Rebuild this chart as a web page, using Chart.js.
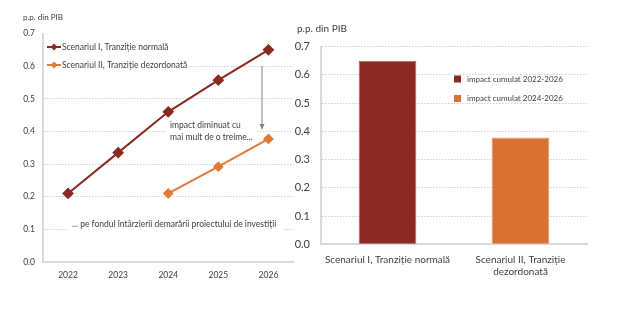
<!DOCTYPE html>
<html>
<head>
<meta charset="utf-8">
<script src="https://cdn.jsdelivr.net/npm/chart.js@4.4.1/dist/chart.umd.min.js"></script>
<style>
  body { margin: 0; background: #fff; }
  #wrap { position: relative; width: 641px; height: 327px; }
  .box { position: absolute; top: 0; height: 327px; }
</style>
</head>
<body>
<div id="wrap">
  <div class="box" style="left:0;width:300px"><canvas id="lineChart"></canvas></div>
  <div class="box" style="left:290px;width:351px"><canvas id="barChart"></canvas></div>
</div>
<script>
// ------- data -------
const years = ['2022', '2023', '2024', '2025', '2026'];
const scenariu1 = [0.21, 0.335, 0.46, 0.557, 0.65];
const scenariu2 = [null, null, 0.21, 0.292, 0.377];
const seriesNames = ['Scenariul I, Tranziție normală', 'Scenariul II, Tranziție dezordonată'];

const barLabels = [['Scenariul I, Tranziție normală'], ['Scenariul II, Tranziție', 'dezordonată']];
const impact = [0.65, 0.378];
const impactNames = ['impact cumulat 2022-2026', 'impact cumulat 2024-2026'];

const unitText = 'p.p. din PIB';
const noteText = ['impact diminuat cu', 'mai mult de o treime...'];
const bottomNote = '... pe fondul întârzierii demarării proiectului de investiții';

const RED = '#8B2A22';
const ORANGE = '#E07B39';
const BAR_ORANGE = '#D97132';
const FONT = 'Lato, "Open Sans", sans-serif';
const TXT = '#404040';

Chart.defaults.font.family = FONT;
Chart.defaults.animation = false;

// ---------line chart------------

const leftDecor = {
  id: 'leftDecor',
  beforeDatasetsDraw(chart) {
    const ctx = chart.ctx;
    ctx.save();
    // legend box
    ctx.fillStyle = '#fff';
    ctx.fillRect(44, 37, 142, 37);
    const cols = [RED, ORANGE];
    const ys = [47, 65];
    ctx.font = '8.5px ' + FONT;
    ctx.textBaseline = 'middle';
    for (let i = 0; i < 2; i++) {
      ctx.strokeStyle = cols[i];
      ctx.fillStyle = cols[i];
      ctx.lineWidth = 2;
      ctx.beginPath();
      ctx.moveTo(47, ys[i]);
      ctx.lineTo(61, ys[i]);
      ctx.stroke();
      ctx.beginPath();
      ctx.moveTo(54, ys[i] - 3.5);
      ctx.lineTo(57.5, ys[i]);
      ctx.lineTo(54, ys[i] + 3.5);
      ctx.lineTo(50.5, ys[i]);
      ctx.closePath();
      ctx.fill();
      ctx.fillStyle = TXT;
      ctx.fillText(seriesNames[i], 62, ys[i]);
    }
    // middle note
    ctx.fillStyle = '#fff';
    ctx.fillRect(165, 118, 92, 26);
    ctx.fillStyle = TXT;
    ctx.fillText(noteText[0], 170, 125);
    ctx.fillText(noteText[1], 170, 137);
    // bottom note
    ctx.fillStyle = '#fff';
    ctx.fillRect(68, 216, 216, 18);
    ctx.fillStyle = TXT;
    ctx.fillText(bottomNote, 72, 224);
    // arrow
    ctx.strokeStyle = '#7d8677';
    ctx.fillStyle = '#7d8677';
    ctx.lineWidth = 1;
    ctx.beginPath();
    ctx.moveTo(262, 66);
    ctx.lineTo(262, 125);
    ctx.stroke();
    ctx.beginPath();
    ctx.moveTo(259.5, 124);
    ctx.lineTo(264.5, 124);
    ctx.lineTo(262, 130);
    ctx.closePath();
    ctx.fill();
    // unit
    ctx.fillStyle = TXT;
    ctx.font = '8px ' + FONT;
    ctx.fillText(unitText, 23, 17);
    ctx.restore();
  }
};

new Chart(document.getElementById('lineChart'), {
  type: 'line',
  data: {
    labels: years,
    datasets: [
      {
        label: seriesNames[0],
        data: scenariu1,
        borderColor: RED,
        backgroundColor: RED,
        borderWidth: 2,
        pointStyle: 'rectRot',
        pointRadius: 4.5,
        pointHoverRadius: 4.5
      },
      {
        label: seriesNames[1],
        data: scenariu2,
        borderColor: ORANGE,
        backgroundColor: ORANGE,
        borderWidth: 2,
        pointStyle: 'rectRot',
        pointRadius: 4,
        pointHoverRadius: 4
      }
    ]
  },
  options: {
    responsive: true,
    maintainAspectRatio: false,
    layout: { padding: { top: 33.5, right: 4, bottom: 35, left: 0 } },
    plugins: { legend: { display: false }, tooltip: { enabled: false } },
    scales: {
      x: {
        offset: true,
        grid: { display: false, drawTicks: false },
        border: { color: '#d9d9d9', width: 2 },
        ticks: { color: TXT, font: { size: 8.5 }, padding: 8 },
        afterFit(s) { s.height = 30; }
      },
      y: {
        min: 0,
        max: 0.7,
        ticks: { stepSize: 0.1, color: TXT, font: { size: 8.5 }, padding: 8,
                 callback: v => v.toFixed(1) },
        grid: {
          drawTicks: false,
          color: c => (c.tick.value === 0 || c.tick.value > 0.65) ? 'rgba(0,0,0,0)' : '#cfcfcf'
        },
        border: { color: '#d9d9d9', width: 2, dash: [1.5, 1.5] },
        afterFit(s) { s.width = 43; }
      }
    }
  },
  plugins: [leftDecor]
});

// ---------bar chart------------

const rightDecor = {
  id: 'rightDecor',
  afterDraw(chart) {
    const ctx = chart.ctx;
    ctx.save();
    ctx.fillStyle = TXT;
    ctx.textBaseline = 'middle';
    ctx.font = '10px ' + FONT;
    ctx.fillText(unitText, 7, 29);
    const cols = [RED, BAR_ORANGE];
    const ys = [79, 98.5];
    ctx.font = '8px ' + FONT;
    for (let i = 0; i < 2; i++) {
      ctx.fillStyle = cols[i];
      ctx.fillRect(164, ys[i] - 3.5, 7, 7);
      ctx.fillStyle = TXT;
      ctx.fillText(impactNames[i], 177, ys[i]);
    }
    ctx.restore();
  }
};

new Chart(document.getElementById('barChart'), {
  type: 'bar',
  data: {
    labels: barLabels,
    datasets: [
      {
        label: 'impact',
        data: impact,
        backgroundColor: [RED, BAR_ORANGE],
        borderColor: ['#b36a63', '#e69a6c'],
        borderWidth: 1,
        barPercentage: 0.434,
        categoryPercentage: 1
      }
    ]
  },
  options: {
    responsive: true,
    maintainAspectRatio: false,
    layout: { padding: { top: 46.7, right: 54, bottom: 42.7, left: 0 } },
    plugins: { legend: { display: false }, tooltip: { enabled: false } },
    scales: {
      x: {
        grid: { display: false, drawTicks: false },
        border: { color: '#d9d9d9', width: 2 },
        ticks: { color: TXT, font: { size: 10, lineHeight: 1.25 }, padding: 9,
                 maxRotation: 0, autoSkip: false },
        afterFit(s) { s.height = 40; }
      },
      y: {
        min: 0,
        max: 0.7,
        ticks: { stepSize: 0.1, color: TXT, font: { size: 11 }, padding: 11,
                 callback: v => v.toFixed(1) },
        grid: {
          drawTicks: false,
          color: c => c.tick.value === 0 ? 'rgba(0,0,0,0)' : '#cfcfcf'
        },
        border: { color: '#d9d9d9', width: 2, dash: [1.5, 1.5] },
        afterFit(s) { s.width = 31; }
      }
    }
  },
  plugins: [rightDecor]
});
</script>
</body>
</html>
